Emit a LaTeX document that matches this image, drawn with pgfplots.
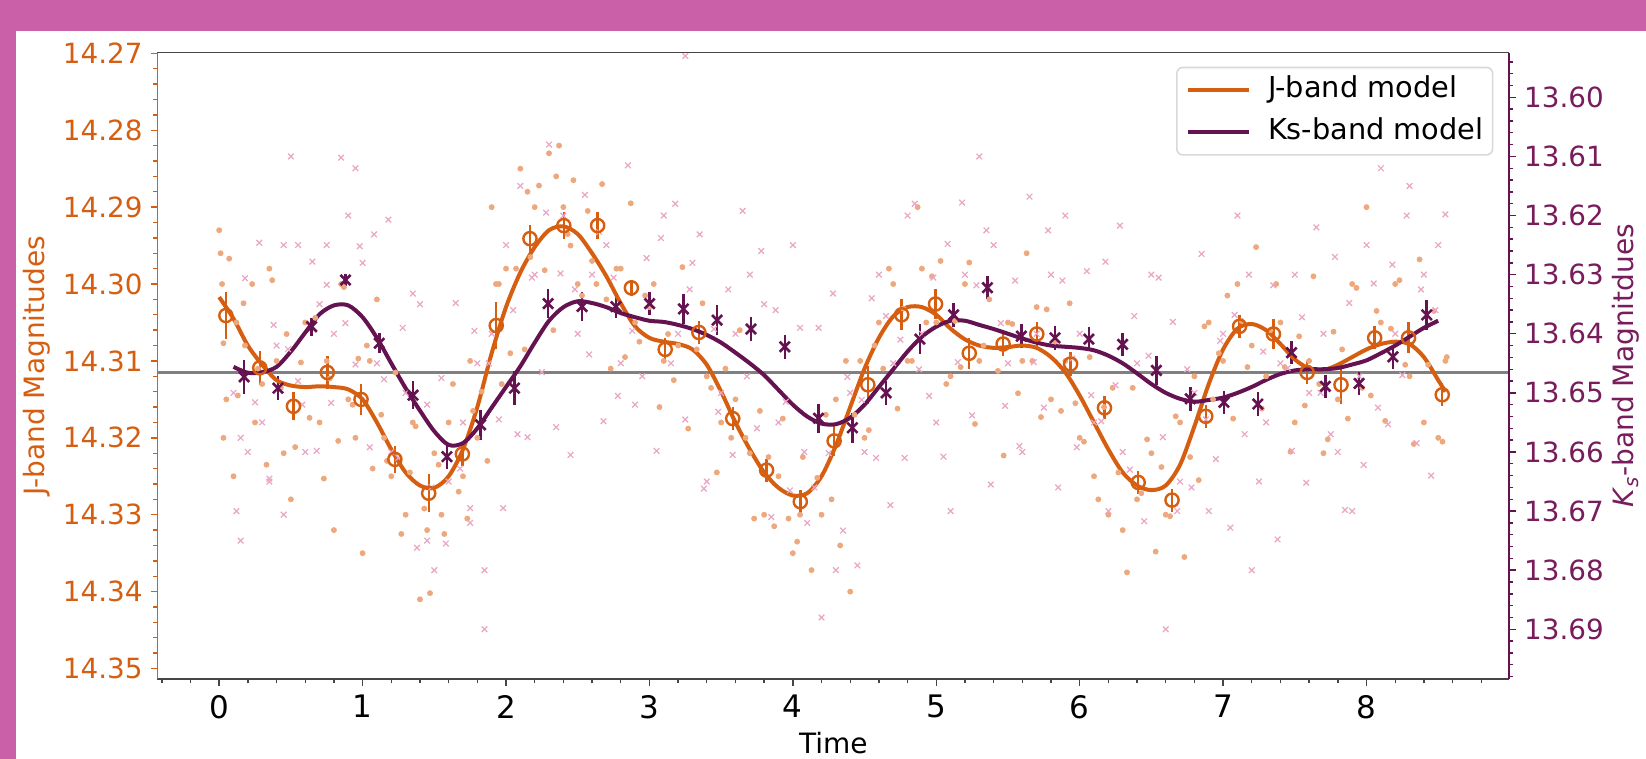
\documentclass[border=0pt]{standalone}
\usepackage{pgfplots}
\usepackage{pgfplotstable}
\pgfplotsset{compat=1.18}
\usepackage{fontspec}
\setmainfont{DejaVu Sans}
\setsansfont{DejaVu Sans}
\definecolor{jcol}{RGB}{214,94,16}
\definecolor{kcol}{RGB}{100,18,80}
\definecolor{klab}{RGB}{120,28,92}
\definecolor{jdot}{RGB}{238,168,125}
\definecolor{kcross}{RGB}{234,166,196}
\definecolor{bgpink}{RGB}{201,96,168}
\definecolor{spine}{RGB}{70,70,70}

\pgfplotstableread{
t j e
0.047 14.3041 0.0030
0.283 14.3109 0.0022
0.518 14.3159 0.0018
0.754 14.3115 0.0022
0.989 14.3150 0.0020
1.225 14.3228 0.0018
1.461 14.3272 0.0025
1.696 14.3221 0.0015
1.932 14.3054 0.0030
2.167 14.2941 0.0018
2.403 14.2924 0.0018
2.639 14.2924 0.0018
2.874 14.3005 0.0010
3.110 14.3085 0.0015
3.345 14.3063 0.0015
3.581 14.3175 0.0015
3.817 14.3242 0.0015
4.052 14.3283 0.0015
4.288 14.3204 0.0020
4.523 14.3131 0.0025
4.759 14.3040 0.0020
4.995 14.3026 0.0020
5.230 14.3090 0.0020
5.466 14.3078 0.0015
5.701 14.3065 0.0015
5.937 14.3104 0.0015
6.173 14.3161 0.0015
6.408 14.3258 0.0015
6.644 14.3281 0.0015
6.879 14.3172 0.0015
7.115 14.3055 0.0015
7.351 14.3065 0.0020
7.586 14.3115 0.0015
7.822 14.3131 0.0025
8.057 14.3070 0.0015
8.293 14.3070 0.0020
8.528 14.3144 0.0015
}\jbins

\pgfplotstableread{
t k e
0.174 13.6473 0.0029
0.410 13.6492 0.0020
0.645 13.6388 0.0015
0.881 13.6309 0.0010
1.116 13.6416 0.0017
1.352 13.6504 0.0024
1.588 13.6608 0.0020
1.823 13.6554 0.0025
2.059 13.6492 0.0029
2.294 13.6349 0.0025
2.530 13.6354 0.0025
2.766 13.6354 0.0020
3.001 13.6349 0.0020
3.237 13.6358 0.0025
3.472 13.6377 0.0025
3.708 13.6392 0.0020
3.944 13.6422 0.0020
4.179 13.6543 0.0025
4.415 13.6559 0.0025
4.650 13.6500 0.0020
4.886 13.6409 0.0025
5.121 13.6368 0.0020
5.357 13.6322 0.0020
5.593 13.6404 0.0020
5.828 13.6407 0.0020
6.064 13.6409 0.0020
6.299 13.6418 0.0020
6.535 13.6462 0.0025
6.771 13.6510 0.0020
7.006 13.6516 0.0020
7.242 13.6519 0.0020
7.477 13.6432 0.0020
7.713 13.6489 0.0020
7.948 13.6484 0.0020
8.184 13.6439 0.0020
8.420 13.6368 0.0025
}\kbins

\pgfplotstableread{
t j
0.00 14.3017
0.10 14.3045
0.20 14.3080
0.30 14.3105
0.40 14.3125
0.50 14.3132
0.60 14.3134
0.70 14.3133
0.80 14.3134
0.90 14.3137
1.00 14.3150
1.10 14.3180
1.20 14.3215
1.30 14.3245
1.40 14.3262
1.50 14.3265
1.60 14.3250
1.70 14.3215
1.80 14.3160
1.90 14.3090
2.00 14.3030
2.10 14.2985
2.20 14.2952
2.30 14.2930
2.40 14.2925
2.50 14.2935
2.60 14.2960
2.70 14.2990
2.80 14.3025
2.90 14.3055
3.00 14.3070
3.10 14.3075
3.20 14.3078
3.30 14.3085
3.40 14.3105
3.50 14.3140
3.60 14.3180
3.70 14.3215
3.80 14.3245
3.90 14.3265
4.00 14.3275
4.10 14.3272
4.20 14.3250
4.30 14.3210
4.40 14.3160
4.50 14.3110
4.60 14.3070
4.70 14.3042
4.80 14.3030
4.90 14.3030
5.00 14.3040
5.10 14.3058
5.20 14.3072
5.30 14.3080
5.40 14.3083
5.50 14.3082
5.60 14.3080
5.70 14.3083
5.80 14.3095
5.90 14.3115
6.00 14.3145
6.10 14.3180
6.20 14.3215
6.30 14.3245
6.40 14.3262
6.50 14.3268
6.60 14.3262
6.70 14.3235
6.80 14.3185
6.90 14.3130
7.00 14.3085
7.10 14.3058
7.20 14.3052
7.30 14.3060
7.40 14.3078
7.50 14.3098
7.60 14.3110
7.70 14.3112
7.80 14.3105
7.90 14.3095
8.00 14.3085
8.10 14.3078
8.20 14.3075
8.30 14.3078
8.40 14.3095
8.50 14.3125
8.55 14.3140
}\jmodel

\pgfplotstableread{
t k
0.10 13.6456
0.20 13.6466
0.30 13.6465
0.40 13.6456
0.50 13.6430
0.60 13.6398
0.70 13.6367
0.80 13.6352
0.90 13.6352
1.00 13.6372
1.10 13.6407
1.20 13.6450
1.30 13.6492
1.40 13.6530
1.50 13.6565
1.60 13.6588
1.70 13.6585
1.80 13.6560
1.90 13.6525
2.00 13.6490
2.10 13.6455
2.20 13.6415
2.30 13.6378
2.40 13.6355
2.50 13.6345
2.60 13.6348
2.70 13.6355
2.80 13.6365
2.90 13.6372
3.00 13.6378
3.10 13.6380
3.20 13.6385
3.30 13.6392
3.40 13.6402
3.50 13.6415
3.60 13.6432
3.70 13.6450
3.80 13.6470
3.90 13.6495
4.00 13.6520
4.10 13.6540
4.20 13.6552
4.30 13.6553
4.40 13.6542
4.50 13.6520
4.60 13.6490
4.70 13.6460
4.80 13.6430
4.90 13.6405
5.00 13.6388
5.10 13.6378
5.20 13.6378
5.30 13.6385
5.40 13.6392
5.50 13.6400
5.60 13.6408
5.70 13.6415
5.80 13.6420
5.90 13.6422
6.00 13.6424
6.10 13.6428
6.20 13.6437
6.30 13.6450
6.40 13.6467
6.50 13.6485
6.60 13.6500
6.70 13.6510
6.80 13.6515
6.90 13.6512
7.00 13.6508
7.10 13.6500
7.20 13.6490
7.30 13.6478
7.40 13.6468
7.50 13.6462
7.60 13.6460
7.70 13.6460
7.80 13.6458
7.90 13.6452
8.00 13.6445
8.10 13.6433
8.20 13.6420
8.30 13.6405
8.40 13.6390
8.50 13.6378
}\kmodel

\pgfplotstableread{
t j
0.00 14.293
0.01 14.296
0.02 14.300
0.03 14.320
0.05 14.315
0.10 14.325
0.12 14.305
0.18 14.308
0.25 14.318
0.30 14.313
0.35 14.298
0.40 14.310
0.45 14.322
0.50 14.328
0.60 14.305
0.70 14.318
0.75 14.310
0.80 14.332
0.85 14.300
0.90 14.315
0.95 14.320
1.00 14.335
1.05 14.310
1.10 14.302
1.15 14.320
1.20 14.325
1.30 14.330
1.35 14.318
1.40 14.341
1.45 14.332
1.50 14.322
1.55 14.330
1.60 14.318
1.70 14.325
1.75 14.310
1.80 14.320
1.90 14.290
1.95 14.300
2.00 14.298
2.10 14.285
2.15 14.288
2.20 14.290
2.30 14.283
2.35 14.286
2.40 14.290
2.45 14.295
2.50 14.300
2.60 14.297
2.70 14.302
2.80 14.298
2.90 14.305
3.00 14.303
3.10 14.310
3.20 14.308
3.40 14.312
3.50 14.318
3.60 14.315
3.70 14.322
3.80 14.330
3.90 14.325
4.00 14.335
4.05 14.330
4.20 14.330
4.30 14.315
4.40 14.340
4.50 14.320
4.60 14.305
4.70 14.300
4.80 14.310
4.90 14.298
5.00 14.305
5.10 14.312
5.20 14.300
5.30 14.310
5.50 14.305
5.60 14.310
5.70 14.303
5.80 14.315
5.90 14.310
6.00 14.320
6.10 14.325
6.20 14.330
6.30 14.332
6.40 14.328
6.50 14.322
6.60 14.330
6.70 14.318
6.80 14.312
6.90 14.305
7.00 14.310
7.10 14.300
7.20 14.308
7.30 14.312
7.40 14.305
7.50 14.318
7.60 14.310
7.70 14.322
7.80 14.315
7.90 14.300
8.00 14.290
8.10 14.305
8.20 14.300
8.30 14.312
8.40 14.318
8.50 14.320
8.55 14.310
0.03 14.3077
0.07 14.2967
0.13 14.3145
0.17 14.3025
0.23 14.3000
0.27 14.3110
0.33 14.3235
0.37 14.2995
0.43 14.3135
0.47 14.3065
0.53 14.3212
0.57 14.3102
0.63 14.3174
0.67 14.3044
0.73 14.3253
0.77 14.3123
0.83 14.3204
0.87 14.3004
0.93 14.3157
0.97 14.3097
1.03 14.3080
1.07 14.3240
1.13 14.3170
1.17 14.3230
1.23 14.3115
1.27 14.3325
1.33 14.3245
1.37 14.3185
1.43 14.3292
1.47 14.3402
1.53 14.3235
1.57 14.3325
1.63 14.3130
1.67 14.3270
1.73 14.3305
1.77 14.3165
1.83 14.3140
1.87 14.3230
1.93 14.3000
1.97 14.3130
2.03 14.3090
2.07 14.2980
2.13 14.3085
2.17 14.2965
2.23 14.2872
2.27 14.2982
2.33 14.3060
2.37 14.2820
2.43 14.2935
2.47 14.2865
2.53 14.3015
2.57 14.2905
2.63 14.3000
2.67 14.2870
2.73 14.3110
2.77 14.2980
2.83 14.3095
2.87 14.2895
2.93 14.3075
2.97 14.3015
3.03 14.3000
3.07 14.3160
3.13 14.3065
3.17 14.3125
3.23 14.2978
3.27 14.3188
3.33 14.3085
3.37 14.3025
3.43 14.3135
3.47 14.3245
3.53 14.3110
3.57 14.3200
3.63 14.3060
3.67 14.3200
3.73 14.3305
3.77 14.3165
3.83 14.3225
3.87 14.3315
3.93 14.3175
3.97 14.3305
4.03 14.3335
4.07 14.3225
4.13 14.3372
4.17 14.3252
4.23 14.3170
4.27 14.3280
4.33 14.3340
4.37 14.3100
4.43 14.3170
4.47 14.3100
4.53 14.3190
4.57 14.3080
4.63 14.3110
4.67 14.2980
4.73 14.3162
4.77 14.3032
4.83 14.3100
4.87 14.2900
4.93 14.3050
4.97 14.2990
5.03 14.2970
5.07 14.3130
5.13 14.3048
5.17 14.3108
5.23 14.2972
5.27 14.3182
5.33 14.3080
5.37 14.3020
5.43 14.3113
5.47 14.3223
5.53 14.3052
5.57 14.3142
5.63 14.2960
5.67 14.3100
5.73 14.3173
5.77 14.3033
5.83 14.3075
5.87 14.3165
5.93 14.3025
5.97 14.3155
6.03 14.3205
6.07 14.3095
6.13 14.3280
6.17 14.3160
6.23 14.3135
6.27 14.3245
6.33 14.3375
6.37 14.3135
6.43 14.3272
6.47 14.3202
6.53 14.3348
6.57 14.3238
6.63 14.3302
6.67 14.3172
6.73 14.3355
6.77 14.3225
6.83 14.3255
6.87 14.3055
6.93 14.3150
6.97 14.3090
7.03 14.3015
7.07 14.3175
7.13 14.3048
7.17 14.3108
7.23 14.2952
7.27 14.3162
7.33 14.3060
7.37 14.3000
7.43 14.3108
7.47 14.3218
7.53 14.3068
7.57 14.3158
7.63 14.2990
7.67 14.3130
7.73 14.3202
7.77 14.3062
7.83 14.3085
7.87 14.3175
7.93 14.3005
7.97 14.3135
8.03 14.3145
8.07 14.3035
8.13 14.3178
8.17 14.3058
8.23 14.2995
8.27 14.3105
8.33 14.3208
8.37 14.2968
8.43 14.3105
8.47 14.3035
8.53 14.3205
8.56 14.3095
}\jraw

\pgfplotstableread{
t k
0.10 13.650
0.12 13.670
0.15 13.675
0.20 13.660
0.30 13.655
0.35 13.665
0.40 13.642
0.45 13.625
0.50 13.610
0.55 13.648
0.60 13.660
0.70 13.635
0.75 13.625
0.80 13.640
0.90 13.620
0.95 13.612
1.00 13.628
1.10 13.645
1.20 13.660
1.30 13.650
1.40 13.635
1.45 13.675
1.50 13.680
1.60 13.665
1.70 13.655
1.75 13.672
1.80 13.645
1.85 13.690
1.90 13.640
2.00 13.625
2.10 13.615
2.20 13.630
2.30 13.608
2.40 13.620
2.50 13.640
2.60 13.630
2.65 13.592
2.70 13.625
2.80 13.645
2.90 13.652
3.00 13.635
3.10 13.620
3.20 13.640
3.25 13.593
3.30 13.628
3.40 13.665
3.50 13.650
3.60 13.640
3.70 13.630
3.80 13.635
3.90 13.655
4.00 13.625
4.10 13.672
4.20 13.688
4.30 13.680
4.40 13.650
4.50 13.660
4.60 13.630
4.70 13.645
4.80 13.620
4.90 13.640
5.00 13.655
5.10 13.670
5.20 13.630
5.30 13.610
5.40 13.625
5.50 13.645
5.60 13.660
5.70 13.640
5.80 13.630
5.90 13.620
6.00 13.640
6.10 13.655
6.20 13.670
6.30 13.660
6.40 13.645
6.50 13.630
6.60 13.690
6.70 13.665
6.80 13.650
6.90 13.670
7.00 13.640
7.10 13.620
7.20 13.680
7.30 13.655
7.40 13.645
7.50 13.630
7.60 13.650
7.70 13.640
7.80 13.660
7.90 13.670
8.00 13.625
8.10 13.612
8.20 13.640
8.30 13.615
8.40 13.630
8.50 13.625
0.15 13.6576
0.18 13.6306
0.25 13.6516
0.28 13.6246
0.35 13.6645
0.38 13.6385
0.45 13.6706
0.48 13.6426
0.55 13.6250
0.58 13.6520
0.65 13.6278
0.68 13.6598
0.75 13.6317
0.78 13.6517
0.85 13.6102
0.88 13.6382
0.95 13.6452
0.98 13.6252
1.05 13.6592
1.08 13.6232
1.15 13.6477
1.18 13.6207
1.25 13.6610
1.28 13.6390
1.35 13.6332
1.38 13.6762
1.45 13.6520
1.48 13.6660
1.55 13.6475
1.58 13.6755
1.65 13.6348
1.68 13.6628
1.75 13.6695
1.78 13.6395
1.85 13.6800
1.88 13.6450
1.95 13.6545
1.98 13.6695
2.05 13.6360
2.08 13.6570
2.15 13.6575
2.18 13.6305
2.25 13.6465
2.28 13.6195
2.35 13.6558
2.38 13.6298
2.45 13.6605
2.48 13.6325
2.55 13.6165
2.58 13.6435
2.65 13.6228
2.68 13.6548
2.75 13.6305
2.78 13.6505
2.85 13.6115
2.88 13.6395
2.95 13.6472
2.98 13.6272
3.05 13.6598
3.08 13.6238
3.15 13.6450
3.18 13.6180
3.25 13.6545
3.28 13.6325
3.35 13.6232
3.38 13.6662
3.45 13.6392
3.48 13.6532
3.55 13.6325
3.58 13.6605
3.65 13.6192
3.68 13.6472
3.75 13.6560
3.78 13.6260
3.85 13.6710
3.88 13.6360
3.95 13.6515
3.98 13.6665
4.05 13.6390
4.08 13.6600
4.15 13.6660
4.18 13.6390
4.25 13.6602
4.28 13.6332
4.35 13.6733
4.38 13.6473
4.45 13.6792
4.48 13.6512
4.55 13.6340
4.58 13.6610
4.65 13.6370
4.68 13.6690
4.75 13.6410
4.78 13.6610
4.85 13.6180
4.88 13.6460
4.95 13.6505
4.98 13.6305
5.05 13.6608
5.08 13.6248
5.15 13.6448
5.18 13.6178
5.25 13.6538
5.28 13.6318
5.35 13.6225
5.38 13.6655
5.45 13.6382
5.48 13.6522
5.55 13.6310
5.58 13.6590
5.65 13.6168
5.68 13.6448
5.75 13.6525
5.78 13.6225
5.85 13.6660
5.88 13.6310
5.95 13.6442
5.98 13.6592
6.05 13.6294
6.08 13.6504
6.15 13.6548
6.18 13.6278
6.25 13.6487
6.28 13.6217
6.35 13.6630
6.38 13.6370
6.45 13.6717
6.48 13.6437
6.55 13.6305
6.58 13.6575
6.65 13.6380
6.68 13.6700
6.75 13.6460
6.78 13.6660
6.85 13.6265
6.88 13.6545
6.95 13.6612
6.98 13.6412
7.05 13.6728
7.08 13.6368
7.15 13.6570
7.18 13.6300
7.25 13.6650
7.28 13.6430
7.35 13.6318
7.38 13.6748
7.45 13.6458
7.48 13.6598
7.55 13.6372
7.58 13.6652
7.65 13.6220
7.68 13.6500
7.75 13.6570
7.78 13.6270
7.85 13.6698
7.88 13.6348
7.95 13.6472
7.98 13.6622
8.05 13.6315
8.08 13.6525
8.15 13.6553
8.18 13.6283
8.25 13.6470
8.28 13.6200
8.35 13.6585
8.38 13.6325
8.45 13.6640
8.48 13.6360
8.55 13.6198
}\kraw

\begin{document}
\begin{tikzpicture}
\fill[bgpink] (0pt,0pt) rectangle (823pt,379.5pt);
\fill[white] (8pt,0pt) rectangle (823pt,364pt);

\begin{axis}[
  scale only axis, width=675.85pt, height=313.3pt,
  anchor=south west, at={(78.75pt,39.85pt)},
  xmin=-0.43, xmax=8.995,
  ymin=14.26992, ymax=14.3514, y dir=reverse,
  axis x line*=bottom, axis y line*=left,
  x axis line style={spine, line width=0.8pt},
  y axis line style={jcol, line width=0.8pt},
  tick align=outside,
  xtick={0,1,2,3,4,5,6,7,8},
  minor xtick={-0.4,-0.2,0.2,0.4,0.6,0.8,1.2,1.4,1.6,1.8,2.2,2.4,2.6,2.8,3.2,3.4,3.6,3.8,4.2,4.4,4.6,4.8,5.2,5.4,5.6,5.8,6.2,6.4,6.6,6.8,7.2,7.4,7.6,7.8,8.2,8.4,8.6,8.8,9.0},
  ytick={14.27,14.28,14.29,14.30,14.31,14.32,14.33,14.34,14.35},
  minor ytick={14.272,14.274,14.276,14.278,14.282,14.284,14.286,14.288,14.292,14.294,14.296,14.298,14.302,14.304,14.306,14.308,14.312,14.314,14.316,14.318,14.322,14.324,14.326,14.328,14.332,14.334,14.336,14.338,14.342,14.344,14.346,14.348},
  major tick length=3.3pt, minor tick length=2pt,
  x tick style={spine, line width=0.7pt},
  y tick style={jcol, line width=0.7pt},
  /pgf/number format/assume math mode=true,
  xticklabel style={font=\fontsize{15.5pt}{18pt}\selectfont, text=black, inner sep=0pt, yshift=-4.5pt},
  yticklabel style={font=\fontsize{13.9pt}{16pt}\selectfont, text=jcol, inner sep=0pt, xshift=-4pt,
    /pgf/number format/.cd, fixed, fixed zerofill, precision=2},
  xlabel={Time},
  xlabel style={at={(axis description cs:0.5,-0.1017)}, anchor=center, font=\fontsize{14pt}{16pt}\selectfont},
  ylabel={J-band Magnitudes},
  ylabel style={at={(axis description cs:-0.0891,0.5)}, anchor=center, font=\fontsize{14pt}{16pt}\selectfont, text=jcol},
  legend style={at={(0.9883,0.9777)}, anchor=north east, draw=black!15, line width=0.8pt, rounded corners=3pt, fill=white,
    font=\fontsize{14.4pt}{16pt}\selectfont, inner xsep=4.5pt, inner ysep=4pt,
    nodes={inner sep=0pt, text height=11pt, text depth=3.5pt},
    row sep=6.7pt,
    /tikz/every odd column/.append style={column sep=8.3pt}},
  legend cell align=left,
  legend image code/.code={\draw[#1] (0pt,0pt) -- (30.8pt,0pt);},
]
\addplot[forget plot, jdot, only marks, mark=*, mark size=1.25pt, mark options={draw=jdot, fill=jdot}] table[x=t, y=j] {\jraw};
\addplot[forget plot, kcross, only marks, mark=x, mark size=2pt, mark options={draw=kcross, line width=0.6pt}]
  table[x=t, y expr={14.275722+0.76866*(\thisrow{k}-13.60)}] {\kraw};
\addplot[forget plot, color=gray, line width=1.1pt] coordinates {(-0.43,14.3115) (8.995,14.3115)};
\addplot[forget plot, jcol, only marks, mark=o, mark size=3.3pt, mark options={line width=1.2pt},
  error bars/.cd, y dir=both, y explicit, error mark=none, error bar style={jcol, line width=1.2pt}]
  table[x=t, y=j, y error=e] {\jbins};
\addplot[forget plot, kcol, only marks, mark=x, mark size=3.6pt, mark options={line width=1.3pt},
  error bars/.cd, y dir=both, y explicit, error mark=none, error bar style={kcol, line width=1.3pt}]
  table[x=t, y expr={14.275722+0.76866*(\thisrow{k}-13.60)}, y error expr={0.76866*\thisrow{e}}] {\kbins};
\addplot[jcol, line width=2pt, smooth] table[x=t, y=j] {\jmodel};
\addlegendentry{J-band model}
\addplot[kcol, line width=2pt, smooth] table[x=t, y expr={14.275722+0.76866*(\thisrow{k}-13.60)}] {\kmodel};
\addlegendentry{Ks-band model}
\end{axis}

\begin{axis}[
  scale only axis, width=675.85pt, height=313.3pt,
  anchor=south west, at={(78.75pt,39.85pt)},
  xmin=-0.43, xmax=8.995,
  ymin=13.59245, ymax=13.69846, y dir=reverse,
  axis x line*=top, axis y line*=right,
  x axis line style={spine, line width=0.8pt},
  y axis line style={kcol, line width=0.8pt},
  xtick=\empty,
  tick align=outside,
  ytick={13.60,13.61,13.62,13.63,13.64,13.65,13.66,13.67,13.68,13.69},
  minor ytick={13.594,13.596,13.598,13.602,13.604,13.606,13.608,13.612,13.614,13.616,13.618,13.622,13.624,13.626,13.628,13.632,13.634,13.636,13.638,13.642,13.644,13.646,13.648,13.652,13.654,13.656,13.658,13.662,13.664,13.666,13.668,13.672,13.674,13.676,13.678,13.682,13.684,13.686,13.688,13.692,13.694,13.696,13.698},
  major tick length=3.3pt, minor tick length=2pt,
  y tick style={kcol, line width=0.7pt},
  /pgf/number format/assume math mode=true,
  yticklabel style={font=\fontsize{13.9pt}{16pt}\selectfont, text=klab, inner sep=0pt, xshift=4pt,
    /pgf/number format/.cd, fixed, fixed zerofill, precision=2},
  ylabel={\textit{K}\textsubscript{\textit{s}}-band Magnitdues},
  ylabel style={at={(axis description cs:1.0864,0.5)}, anchor=center, rotate=0, font=\fontsize{14pt}{16pt}\selectfont, text=klab},
]
\end{axis}
\pgfresetboundingbox
\useasboundingbox (0pt,0pt) rectangle (823pt,379.5pt);
\end{tikzpicture}
\end{document}
